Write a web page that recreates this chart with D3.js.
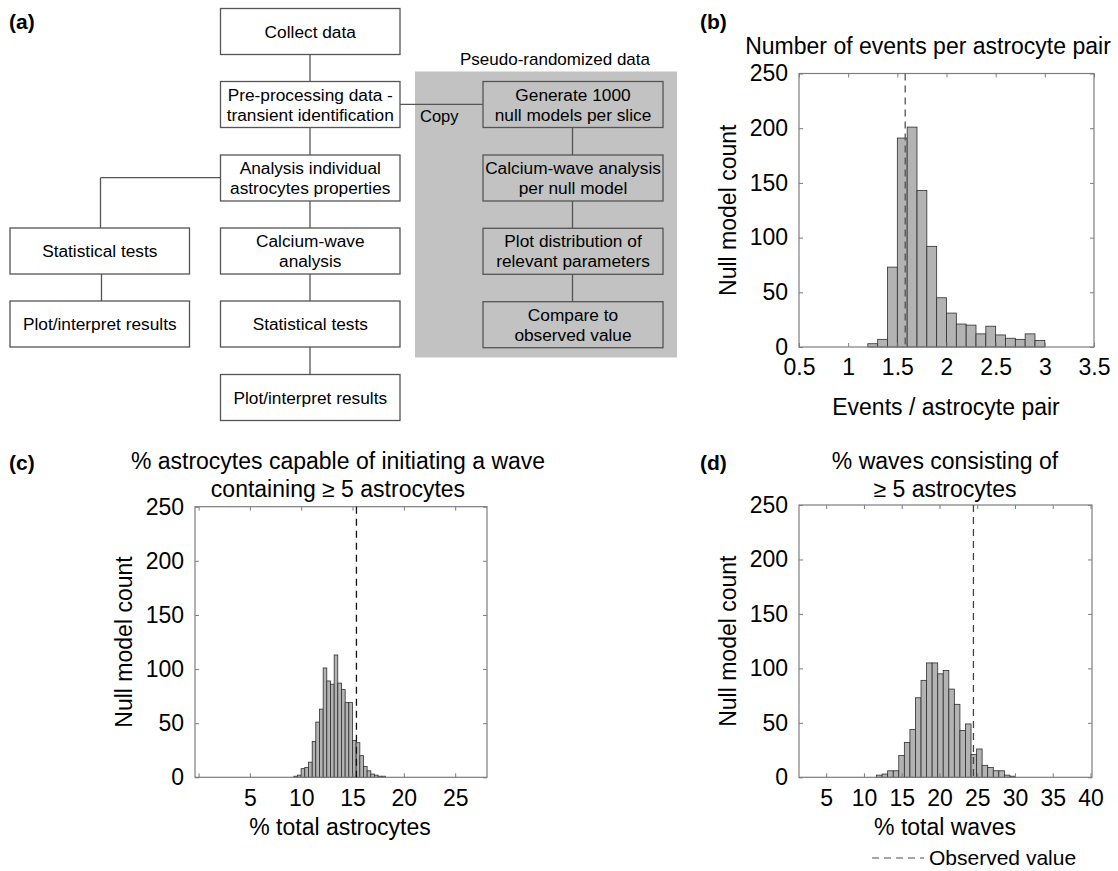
<!DOCTYPE html>
<html>
<head>
<meta charset="utf-8">
<script src="https://cdn.jsdelivr.net/npm/d3@7"></script>
<style>
  html, body { margin: 0; padding: 0; background: #fff; }
  svg { display: block; font-family: "Liberation Sans", Arial, Helvetica, sans-serif; }
</style>
</head>
<body>
<svg id="chart" width="1118" height="871"></svg>
<script>
// ---------------- DATA ----------------
// Panel (b): events per astrocyte pair
const edgesB = [1.2, 1.3, 1.4, 1.5, 1.6, 1.7, 1.8, 1.9, 2.0, 2.1, 2.2, 2.3, 2.4, 2.5, 2.6, 2.7, 2.8, 2.9, 3.0];
const countsB = [3, 7, 73, 191, 201, 143, 92, 45, 31, 21, 20, 12, 19, 11, 8, 7, 12, 6];
const observedB = 1.58;
const ticksB = [0.5, 1, 1.5, 2, 2.5, 3, 3.5];
const tickLabelsB = ["0.5", "1", "1.5", "2", "2.5", "3", "3.5"];

// Panel (c): % astrocytes capable of initiating a wave containing >= 5 astrocytes
const edgesC = [9.28, 9.64, 9.99, 10.35, 10.71, 11.07, 11.42, 11.78, 12.14, 12.49, 12.85, 13.21, 13.56,
                13.92, 14.28, 14.64, 14.99, 15.35, 15.71, 16.06, 16.42, 16.78, 17.13, 17.49, 17.85, 18.21];
const countsC = [1, 2, 8, 9, 14, 33, 51, 63, 101, 89, 86, 113, 87, 81, 69, 69, 34, 32, 20, 10, 6, 3, 2, 1, 1];
const observedC = 15.38;
const ticksC = [0, 5, 10, 15, 20, 25];
const tickLabelsC = ["", "5", "10", "15", "20", "25"];

// Panel (d): % waves consisting of >= 5 astrocytes
const edgesD = [11.67, 12.41, 13.14, 13.88, 14.61, 15.35, 16.09, 16.82, 17.56, 18.29, 19.03, 19.77, 20.50,
                21.24, 21.97, 22.71, 23.45, 24.18, 24.92, 25.65, 26.39, 27.13, 27.86, 28.60, 29.33, 30.07];
const countsD = [2, 3, 6, 6, 20, 32, 44, 73, 89, 105, 105, 95, 98, 81, 67, 43, 49, 21, 26, 11, 9, 6, 6, 2, 1];
const observedD = 24.5;
const ticksD = [5, 10, 15, 20, 25, 30, 35, 40];
const tickLabelsD = ["5", "10", "15", "20", "25", "30", "35", "40"];

const yTicks = [0, 50, 100, 150, 200, 250];
const yLabel = "Null model count";

// Panel (a): flowchart texts
const mainFlow = [
  ["Collect data"],
  ["Pre-processing data -", "transient identification"],
  ["Analysis individual", "astrocytes properties"],
  ["Calcium-wave", "analysis"],
  ["Statistical tests"],
  ["Plot/interpret results"]
];
const sideFlow = [["Statistical tests"], ["Plot/interpret results"]];
const nullFlow = [
  ["Generate 1000", "null models per slice"],
  ["Calcium-wave analysis", "per null model"],
  ["Plot distribution of", "relevant parameters"],
  ["Compare to", "observed value"]
];

// ---------------- DRAW ----------------
const svg = d3.select("#chart");
const FONT = 23;
const lineCol = "#555";

// ---- panel labels ----
[["(a)", 9, 29], ["(b)", 700, 29], ["(c)", 9, 470], ["(d)", 700, 470]].forEach(([t, x, y]) => {
  svg.append("text").attr("x", x).attr("y", y).attr("font-size", 21).attr("font-weight", "bold").text(t);
});

// ---- flowchart ----
const fa = svg.append("g");
fa.append("rect").attr("x", 415).attr("y", 71.5).attr("width", 262).attr("height", 286).attr("fill", "#c2c2c2");
fa.append("text").attr("x", 555).attr("y", 65).attr("text-anchor", "middle").attr("font-size", 17)
  .text("Pseudo-randomized data");

function box(g, x, y, w, h, lines, fill) {
  g.append("rect").attr("x", x).attr("y", y).attr("width", w).attr("height", h)
    .attr("fill", fill).attr("stroke", lineCol).attr("stroke-width", 1.3);
  const n = lines.length, lh = 20;
  lines.forEach((t, i) => {
    g.append("text").attr("x", x + w / 2).attr("y", y + h / 2 + (i - (n - 1) / 2) * lh + 6)
      .attr("text-anchor", "middle").attr("font-size", 17.3).text(t);
  });
}
function line(g, x1, y1, x2, y2) {
  g.append("line").attr("x1", x1).attr("y1", y1).attr("x2", x2).attr("y2", y2)
    .attr("stroke", lineCol).attr("stroke-width", 1.3);
}
const mainY = [8.5, 81.5, 155, 228, 301, 374.5];
const bw = 179.5, bh = 46;
for (let i = 0; i < mainY.length - 1; i++) line(fa, 310, mainY[i] + bh, 310, mainY[i + 1]);
line(fa, 220.5, 177.7, 100.5, 177.7);
line(fa, 100.5, 177.7, 100.5, 228);
line(fa, 101.5, 274, 101.5, 301);
line(fa, 400, 104.3, 483, 104.3);
fa.append("text").attr("x", 420).attr("y", 122).attr("font-size", 16.5).text("Copy");
mainFlow.forEach((l, i) => box(fa, 220.5, mainY[i], bw, bh, l, "#fff"));
sideFlow.forEach((l, i) => box(fa, 10, [228, 301][i], bw, bh, l, "#fff"));
const nullY = [81.5, 155, 228.3, 301.7];
for (let i = 0; i < nullY.length - 1; i++) line(fa, 572.5, nullY[i] + bh, 572.5, nullY[i + 1]);
nullFlow.forEach((l, i) => box(fa, 483, nullY[i], 180, bh, l, "none"));

// ---- histograms ----
function hist(o) {
  const g = svg.append("g");
  const x = d3.scaleLinear().domain(o.xDomain).range([o.left, o.right]);
  const y = d3.scaleLinear().domain([0, 250]).range([o.bottom, o.top]);
  const bins = o.counts.map((c, i) => ({ x0: o.edges[i], x1: o.edges[i + 1], c }));
  g.selectAll("rect.bar").data(bins).join("rect").attr("class", "bar")
    .attr("x", d => x(d.x0)).attr("width", d => x(d.x1) - x(d.x0))
    .attr("y", d => y(d.c)).attr("height", d => y(0) - y(d.c))
    .attr("fill", "#b3b3b3").attr("stroke", "#2e2e2e").attr("stroke-width", 0.8);

  g.append("rect").attr("x", o.left).attr("y", o.top).attr("width", o.right - o.left).attr("height", o.bottom - o.top)
    .attr("fill", "none").attr("stroke", "#7d7d7d").attr("stroke-width", 1.2);

  const ax = (gen, tx, ty) => {
    const a = g.append("g").attr("transform", `translate(${tx},${ty})`).call(gen);
    a.select(".domain").remove();
    a.selectAll(".tick line").attr("stroke", "#7d7d7d");
    a.selectAll("text").attr("font-size", FONT).attr("fill", "#000").attr("font-family", "Liberation Sans, Arial, sans-serif");
    return a;
  };
  ax(d3.axisBottom(x).tickValues(o.ticks).tickFormat((d, i) => o.tickLabels[i]).tickSizeInner(-4).tickSizeOuter(0).tickPadding(12), 0, o.bottom);
  ax(d3.axisTop(x).tickValues(o.ticks).tickFormat("").tickSizeInner(-4).tickSizeOuter(0), 0, o.top);
  ax(d3.axisLeft(y).tickValues(yTicks).tickSizeInner(-4).tickSizeOuter(0).tickPadding(11), o.left, 0);
  ax(d3.axisRight(y).tickValues(yTicks).tickFormat("").tickSizeInner(-4).tickSizeOuter(0), o.right, 0);

  g.append("line").attr("x1", x(o.observed)).attr("x2", x(o.observed)).attr("y1", o.top).attr("y2", o.bottom)
    .attr("stroke", o.dashColor).attr("stroke-width", 1.3).attr("stroke-dasharray", "7,5");

  o.title.forEach((t, i) => {
    g.append("text").attr("x", o.titleX).attr("y", o.titleY + i * 28).attr("text-anchor", "middle")
      .attr("font-size", FONT).text(t);
  });
  g.append("text").attr("x", o.xlabelX).attr("y", o.xlabelY).attr("text-anchor", "middle")
    .attr("font-size", FONT).text(o.xlabel);
  g.append("text").attr("transform", `translate(${o.ylabelX},${(o.top + o.bottom) / 2}) rotate(-90)`)
    .attr("text-anchor", "middle").attr("font-size", FONT).text(yLabel);
}

hist({
  edges: edgesB, counts: countsB, observed: observedB, ticks: ticksB, tickLabels: tickLabelsB,
  xDomain: [0.5, 3.5], left: 799, right: 1094, top: 73.5, bottom: 347,
  dashColor: "#555", title: ["Number of events per astrocyte pair"], titleX: 928, titleY: 54,
  xlabel: "Events / astrocyte pair", xlabelX: 946, xlabelY: 415, ylabelX: 736
});
hist({
  edges: edgesC, counts: countsC, observed: observedC, ticks: ticksC, tickLabels: tickLabelsC,
  xDomain: [-0.35, 28.1], left: 195, right: 487, top: 506.7, bottom: 777.3,
  dashColor: "#111", title: ["% astrocytes capable of initiating a wave", "containing \u2265 5 astrocytes"],
  titleX: 338, titleY: 469,
  xlabel: "% total astrocytes", xlabelX: 340, xlabelY: 835, ylabelX: 132
});
hist({
  edges: edgesD, counts: countsD, observed: observedD, ticks: ticksD, tickLabels: tickLabelsD,
  xDomain: [1.4, 40.2], left: 799, right: 1092, top: 505, bottom: 777.3,
  dashColor: "#444", title: ["% waves consisting of", "\u2265 5 astrocytes"],
  titleX: 945, titleY: 469,
  xlabel: "% total waves", xlabelX: 945, xlabelY: 835, ylabelX: 736
});

// legend
svg.append("line").attr("x1", 872).attr("x2", 924).attr("y1", 858).attr("y2", 858)
  .attr("stroke", "#8a8a8a").attr("stroke-width", 1.3).attr("stroke-dasharray", "7,5");
svg.append("text").attr("x", 929).attr("y", 865).attr("font-size", 21).text("Observed value");
</script>
</body>
</html>
